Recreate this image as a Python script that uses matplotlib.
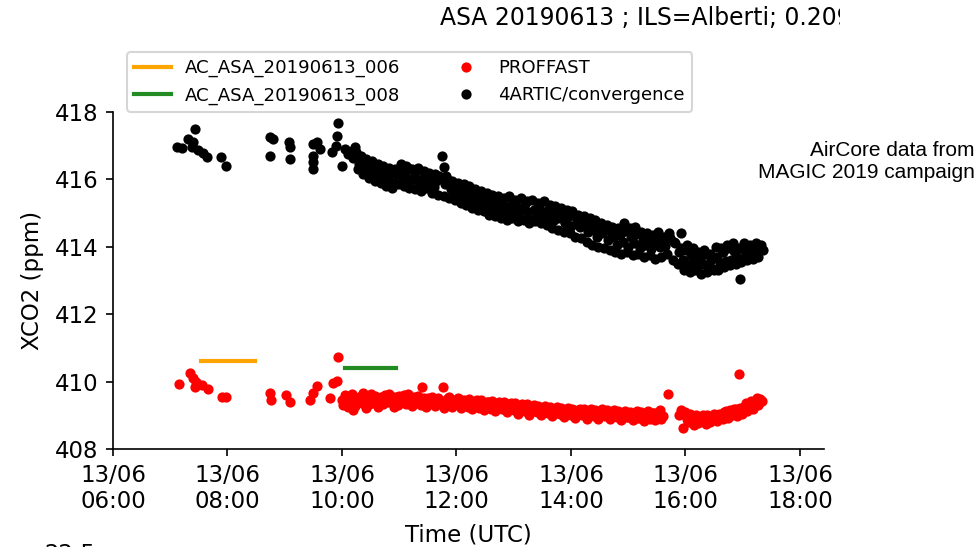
import datetime as dt
import matplotlib
matplotlib.use('Agg')
import matplotlib.pyplot as plt
import matplotlib.dates as mdates
from matplotlib.transforms import Bbox, TransformedBbox

plt.rcParams['font.size'] = 11

# AirCore profiles (start hour, end hour, XCO2)
ac_names = ['AC_ASA_20190613_006', 'AC_ASA_20190613_008']
ac_start = [7.54, 10.05]
ac_end = [8.48, 10.94]
ac_xco2 = [410.62, 410.41]
ac_colors = ['orange', 'forestgreen']

# 4ARTIC/convergence retrievals (hours UTC, ppm)
artic_h = [7.12, 7.21, 7.31, 7.43, 7.40, 7.38, 7.48, 7.57, 7.64, 7.89, 7.97,
           8.74, 8.74, 8.79, 9.07, 9.09, 9.09, 9.49, 9.49, 9.49, 9.49, 9.56,
           9.61, 9.93, 9.91, 9.83, 9.90, 10.00, 10.05, 10.10, 10.17,
           10.20, 10.25, 10.30, 10.35, 10.40, 10.45, 10.50, 10.55, 10.60, 10.65,
           10.70, 10.75, 10.80, 10.85, 10.90, 10.95, 11.00, 11.05, 11.10, 11.15,
           11.20, 11.25, 11.30, 11.35, 11.40, 11.45, 11.50, 11.55, 11.60, 11.65,
           11.70, 11.75, 11.78, 11.80, 11.85, 11.90, 11.95, 12.00, 12.05, 12.10,
           12.15, 12.20, 12.25, 12.30, 12.35, 12.40, 12.45, 12.50, 12.55, 12.60,
           12.65, 12.70, 12.75, 12.80, 12.85, 12.90, 12.95, 13.00, 13.05, 13.10,
           13.15, 13.20, 13.25, 13.30, 13.35, 13.40, 13.45, 13.50, 13.55, 13.60,
           13.65, 13.70, 13.75, 13.80, 13.85, 13.90, 13.95, 14.00, 14.05, 14.10,
           14.15, 14.20, 14.25, 14.30, 14.35, 14.40, 14.45, 14.50, 14.55, 14.60,
           14.65, 14.70, 14.75, 14.80, 14.85, 14.90, 14.95, 15.00, 15.05, 15.10,
           15.15, 15.20, 15.25, 15.30, 15.35, 15.40, 15.45, 15.50, 15.55, 15.60,
           15.65, 15.72, 15.80, 15.88, 15.92, 15.95, 16.00, 16.05, 16.10, 16.15,
           16.20, 16.25, 16.30, 16.35, 16.40, 16.45, 16.50, 16.55, 16.60, 16.65,
           16.70, 16.75, 16.80, 16.85, 16.90, 16.95, 17.00, 17.05, 17.10, 17.15,
           17.20, 17.25, 17.30, 17.35]
artic_xco2 = [416.96, 416.92, 417.20, 417.49, 417.11, 416.96, 416.87, 416.78, 416.66, 416.66, 416.39,
              417.26, 416.69, 417.20, 417.11, 416.60, 416.96, 417.05, 416.69, 416.51, 416.30, 417.11,
              416.90, 417.67, 417.29, 416.81, 416.99, 416.39, 416.90, 416.75, 416.84,
              416.62, 416.80, 416.45, 416.58, 416.30, 416.48, 416.22, 416.40, 416.10, 416.32,
              416.05, 416.25, 416.00, 416.20, 415.90, 416.15, 416.30, 415.95, 416.12, 416.35,
              415.98, 416.08, 416.25, 415.85, 416.02, 416.18, 415.92, 416.05, 415.78, 415.95,
              416.10, 416.68, 416.38, 415.85, 415.98, 415.70, 415.88, 415.62, 415.80, 415.55,
              415.72, 415.45, 415.65, 415.40, 415.58, 415.30, 415.50, 415.22, 415.42, 415.15,
              415.35, 415.20, 415.05, 415.30, 415.12, 414.98, 415.25, 415.08, 415.18, 414.95,
              415.12, 415.28, 415.02, 414.80, 415.10, 414.95, 415.18, 415.00, 414.88, 415.10,
              414.92, 414.78, 415.05, 414.85, 415.00, 414.70, 414.88, 414.62, 414.95, 414.75,
              414.58, 414.85, 414.65, 414.45, 414.72, 414.50, 414.30, 414.62, 414.40, 414.55,
              414.20, 414.45, 414.28, 414.05, 414.35, 414.15, 414.48, 414.00, 414.30, 414.10,
              414.38, 413.95, 414.18, 414.05, 414.25, 413.92, 414.12, 414.28, 413.98, 414.20,
              414.02, 414.40, 414.15, 413.85, 414.42, 413.60, 413.90, 413.45, 413.72, 413.55,
              413.38, 413.65, 413.48, 413.80, 413.40, 413.62, 413.30, 413.70, 413.50, 413.85,
              413.58, 413.95, 413.62, 413.88, 413.70, 413.03, 413.92, 413.75, 414.00, 413.82,
              413.95, 413.78, 414.02, 413.90]

# second batch of 4ARTIC retrievals in the dense afternoon part
artic_h2 = [10.225, 10.275, 10.325, 10.375, 10.425, 10.475, 10.525, 10.575, 10.625, 10.675,
            10.725, 10.775, 10.825, 10.875, 10.925, 10.975, 11.025, 11.075, 11.125, 11.175,
            11.225, 11.275, 11.325, 11.375, 11.425, 11.475, 11.525, 11.575, 11.625, 11.675,
            11.725, 11.775, 11.825, 11.875, 11.925, 11.975, 12.025, 12.075, 12.125, 12.175,
            12.225, 12.275, 12.325, 12.375, 12.425, 12.475, 12.525, 12.575, 12.625, 12.675,
            12.725, 12.775, 12.825, 12.875, 12.925, 12.975, 13.025, 13.075, 13.125, 13.175,
            13.225, 13.275, 13.325, 13.375, 13.425, 13.475, 13.525, 13.575, 13.625, 13.675,
            13.725, 13.775, 13.825, 13.875, 13.925, 13.975, 14.025, 14.075, 14.125, 14.175,
            14.225, 14.275, 14.325, 14.375, 14.425, 14.475, 14.525, 14.575, 14.625, 14.675,
            14.725, 14.775, 14.825, 14.875, 14.925, 14.975, 15.025, 15.075, 15.125, 15.175,
            15.225, 15.275, 15.325, 15.375, 15.425, 15.475, 15.525, 15.575, 15.625, 15.675,
            15.725, 15.775, 15.825, 15.875, 15.925, 15.975, 16.025, 16.075, 16.125, 16.175,
            16.225, 16.275, 16.325, 16.375, 16.425, 16.475, 16.525, 16.575, 16.625, 16.675,
            16.725, 16.775, 16.825, 16.875, 16.925, 16.975, 17.025, 17.075, 17.125, 17.175,
            17.225, 17.275, 17.325]
artic_xco2_2 = [416.95, 416.30, 416.70, 416.15, 416.60, 416.05, 416.55, 415.95, 416.45, 415.90,
                416.40, 415.80, 416.35, 415.75, 416.30, 415.85, 416.45, 415.80, 416.40, 415.75,
                416.30, 415.70, 416.35, 415.65, 416.25, 415.75, 416.20, 415.60, 416.15, 415.55,
                416.05, 415.50, 416.10, 415.45, 415.95, 415.40, 415.90, 415.30, 415.85, 415.25,
                415.80, 415.15, 415.70, 415.10, 415.65, 415.05, 415.60, 414.95, 415.55, 414.90,
                415.50, 414.85, 415.45, 414.80, 415.50, 414.85, 415.40, 414.75, 415.45, 414.80,
                415.35, 414.70, 415.40, 414.75, 415.30, 414.70, 415.35, 414.65, 415.25, 414.55,
                415.20, 414.50, 415.15, 414.45, 415.10, 414.40, 415.05, 414.30, 414.95, 414.25,
                414.90, 414.15, 414.85, 414.05, 414.80, 414.00, 414.70, 413.95, 414.65, 413.90,
                414.60, 413.85, 414.55, 413.80, 414.70, 413.85, 414.55, 413.75, 414.60, 413.80,
                414.45, 413.70, 414.40, 413.75, 414.35, 413.65, 414.45, 413.70, 414.30, 413.80,
                414.25, 413.60, 414.10, 413.50, 413.95, 413.30, 414.05, 413.25, 413.95, 413.30,
                413.85, 413.20, 413.90, 413.25, 413.80, 413.35, 414.00, 413.30, 413.95, 413.40,
                414.05, 413.45, 414.10, 413.50, 413.95, 413.55, 414.10, 413.60, 414.05, 413.65,
                414.10, 413.70, 414.05]

# PROFFAST retrievals (hours UTC, ppm)
prof_h = [7.15, 7.35, 7.40, 7.45, 7.43, 7.55, 7.66, 7.90, 7.97, 8.74, 8.76, 9.03,
          9.09, 9.45, 9.49, 9.56, 9.79, 9.84, 9.91, 9.93,
          10.00, 10.05, 10.10, 10.15, 10.20, 10.25, 10.30, 10.35, 10.40, 10.45,
          10.50, 10.55, 10.60, 10.65, 10.70, 10.75, 10.80, 10.85, 10.90, 10.95,
          11.00, 11.05, 11.10, 11.15, 11.20, 11.25, 11.30, 11.35, 11.40, 11.45,
          11.50, 11.55, 11.60, 11.65, 11.70, 11.76, 11.80, 11.85, 11.90, 11.95,
          12.00, 12.05, 12.10, 12.15, 12.20, 12.25, 12.30, 12.35, 12.40, 12.45,
          12.50, 12.55, 12.60, 12.65, 12.70, 12.75, 12.80, 12.85, 12.90, 12.95,
          13.00, 13.05, 13.10, 13.15, 13.20, 13.25, 13.30, 13.35, 13.40, 13.45,
          13.50, 13.55, 13.60, 13.65, 13.70, 13.75, 13.80, 13.85, 13.90, 13.95,
          14.00, 14.05, 14.10, 14.15, 14.20, 14.25, 14.30, 14.35, 14.40, 14.45,
          14.50, 14.55, 14.60, 14.65, 14.70, 14.75, 14.80, 14.85, 14.90, 14.95,
          15.00, 15.05, 15.10, 15.15, 15.20, 15.25, 15.30, 15.35, 15.40, 15.45,
          15.50, 15.55, 15.60, 15.69, 15.88, 15.92, 15.96, 16.02, 16.08, 16.12,
          16.18, 16.22, 16.28, 16.32, 16.38, 16.42, 16.48, 16.52, 16.58, 16.62,
          16.68, 16.72, 16.78, 16.82, 16.88, 16.93, 16.98, 17.02, 17.08, 17.12,
          17.18, 17.22, 17.26, 17.30, 17.34]
prof_xco2 = [409.93, 410.26, 410.11, 410.00, 409.85, 409.90, 409.79, 409.55, 409.55, 409.67, 409.46, 409.60,
             409.40, 409.45, 409.67, 409.88, 409.52, 409.96, 410.02, 410.74,
             409.45, 409.60, 409.25, 409.50, 409.15, 409.40, 409.55, 409.35, 409.50, 409.30,
             409.62, 409.42, 409.55, 409.35, 409.48, 409.60, 409.40, 409.52, 409.25, 409.45,
             409.58, 409.38, 409.50, 409.62, 409.42, 409.55, 409.35, 409.48, 409.85, 409.40,
             409.52, 409.38, 409.48, 409.33, 409.45, 409.85, 409.38, 409.50, 409.30, 409.45,
             409.35, 409.48, 409.30, 409.42, 409.25, 409.40, 409.32, 409.45, 409.22, 409.38,
             409.28, 409.40, 409.20, 409.35, 409.25, 409.38, 409.18, 409.30, 409.22, 409.35,
             409.15, 409.28, 409.20, 409.32, 409.12, 409.25, 409.18, 409.30, 409.10, 409.22,
             409.15, 409.28, 409.08, 409.20, 409.12, 409.25, 409.05, 409.18, 409.10, 409.22,
             409.02, 409.15, 409.08, 409.20, 409.00, 409.12, 409.05, 409.18, 408.98, 409.10,
             409.05, 409.18, 408.98, 409.10, 409.02, 409.15, 408.95, 409.08, 409.00, 409.12,
             408.95, 409.08, 408.98, 409.12, 408.92, 409.05, 409.00, 409.12, 408.95, 409.08,
             409.02, 409.15, 408.98, 409.64, 409.00, 409.15, 408.62, 408.90, 409.05, 408.85,
             409.00, 408.78, 408.95, 408.85, 409.02, 408.80, 408.95, 408.88, 409.05, 408.92,
             409.10, 408.95, 409.15, 409.00, 409.20, 410.23, 409.05, 409.25, 409.12, 409.30,
             409.20, 409.40, 409.30, 409.48, 409.42]

# second batch of PROFFAST retrievals
prof_h2 = [10.025, 10.075, 10.125, 10.175, 10.225, 10.275, 10.325, 10.375, 10.425, 10.475,
           10.525, 10.575, 10.625, 10.675, 10.725, 10.775, 10.825, 10.875, 10.925, 10.975,
           11.025, 11.075, 11.125, 11.175, 11.225, 11.275, 11.325, 11.375, 11.425, 11.475,
           11.525, 11.575, 11.625, 11.675, 11.725, 11.775, 11.825, 11.875, 11.925, 11.975,
           12.025, 12.075, 12.125, 12.175, 12.225, 12.275, 12.325, 12.375, 12.425, 12.475,
           12.525, 12.575, 12.625, 12.675, 12.725, 12.775, 12.825, 12.875, 12.925, 12.975,
           13.025, 13.075, 13.125, 13.175, 13.225, 13.275, 13.325, 13.375, 13.425, 13.475,
           13.525, 13.575, 13.625, 13.675, 13.725, 13.775, 13.825, 13.875, 13.925, 13.975,
           14.025, 14.075, 14.125, 14.175, 14.225, 14.275, 14.325, 14.375, 14.425, 14.475,
           14.525, 14.575, 14.625, 14.675, 14.725, 14.775, 14.825, 14.875, 14.925, 14.975,
           15.025, 15.075, 15.125, 15.175, 15.225, 15.275, 15.325, 15.375, 15.425, 15.475,
           15.525, 15.575,
           16.00, 16.05, 16.10, 16.15, 16.20, 16.25, 16.30, 16.35, 16.40, 16.45,
           16.50, 16.55, 16.60, 16.65, 16.70, 16.75, 16.80, 16.85, 16.90, 16.95,
           17.00, 17.05, 17.10, 17.15, 17.20, 17.25, 17.30]
prof_xco2_2 = [409.30, 409.55, 409.38, 409.62, 409.28, 409.50, 409.42, 409.65, 409.22, 409.48,
               409.35, 409.58, 409.25, 409.55, 409.32, 409.50, 409.62, 409.38, 409.55, 409.30,
               409.48, 409.60, 409.32, 409.50, 409.28, 409.45, 409.58, 409.30, 409.50, 409.25,
               409.42, 409.55, 409.28, 409.50, 409.35, 409.22, 409.45, 409.55, 409.25, 409.40,
               409.50, 409.22, 409.45, 409.35, 409.48, 409.18, 409.42, 409.30, 409.45, 409.15,
               409.38, 409.25, 409.42, 409.12, 409.35, 409.22, 409.40, 409.10, 409.32, 409.20,
               409.35, 409.05, 409.28, 409.18, 409.32, 409.02, 409.25, 409.15, 409.28, 409.00,
               409.22, 409.12, 409.25, 408.98, 409.20, 409.10, 409.22, 408.95, 409.18, 409.08,
               409.20, 408.92, 409.15, 409.05, 409.18, 408.90, 409.12, 409.02, 409.15, 408.88,
               409.10, 409.00, 409.15, 408.88, 409.08, 408.98, 409.12, 408.85, 409.05, 408.95,
               409.10, 408.85, 409.05, 408.92, 409.10, 408.82, 409.02, 408.90, 409.08, 408.85,
               409.00, 408.90,
               409.10, 408.80, 408.95, 408.72, 408.90, 408.82, 409.00, 408.75, 408.92, 408.85,
               409.05, 408.82, 408.98, 408.88, 409.12, 408.92, 409.08, 409.18, 408.98, 409.22,
               409.10, 409.35, 409.20, 409.42, 409.28, 409.50, 409.38]

day = dt.datetime(2019, 6, 13)


def to_time(hours):
    return [day + dt.timedelta(hours=h) for h in hours]


fig = plt.figure(figsize=(979 / 150, 547 / 150), dpi=150)
ax = fig.add_axes([0.1154, 0.1792, 0.7263, 0.6161])

for name, h0, h1, v, c in zip(ac_names, ac_start, ac_end, ac_xco2, ac_colors):
    ax.plot(to_time([h0, h1]), [v, v], color=c, lw=2, label=name)

ax.plot(to_time(prof_h + prof_h2), prof_xco2 + prof_xco2_2, 'o', color='red', ms=3.9,
        ls='none', label='PROFFAST')
ax.plot(to_time(artic_h + artic_h2), artic_xco2 + artic_xco2_2, 'o', color='black', ms=3.9,
        ls='none', label='4ARTIC/convergence')

ax.set_xlim(day + dt.timedelta(hours=6), day + dt.timedelta(hours=18.42))
ax.set_ylim(408, 418)
ax.xaxis.set_major_locator(mdates.HourLocator(byhour=range(6, 19, 2)))
ax.xaxis.set_major_formatter(mdates.DateFormatter('%d/%m\n%H:%M'))
ax.spines['top'].set_visible(False)
ax.spines['right'].set_visible(False)
ax.set_xlabel('Time (UTC)', labelpad=5)
ax.set_ylabel('XCO2 (ppm)', labelpad=5)

ax.legend(ncol=2, loc='lower left', bbox_to_anchor=(0.02, 1.0), borderaxespad=0,
          fontsize=8.7, columnspacing=2.6)

# title of the full figure, cut at the right edge of the crop
title = fig.text(440 / 979, 1 - 18 / 547, 'ASA 20190613 ; ILS=Alberti; 0.209',
                 ha='left', va='center', fontsize=11.3)
title.set_clip_box(TransformedBbox(Bbox([[0, 0], [840 / 979, 1]]), fig.transFigure))
title.set_clip_on(True)

fig.text(975 / 979, 1 - 161 / 547, 'AirCore data from\nMAGIC 2019 campaign',
         ha='right', va='center', multialignment='right',
         family='Liberation Sans', fontsize=10)

# tick label of the next panel peeking in at the bottom
fig.text(95 / 979, 1 - 561 / 547, '22.5', ha='right', va='baseline', fontsize=11)

fig.savefig('out.png', dpi=150)
